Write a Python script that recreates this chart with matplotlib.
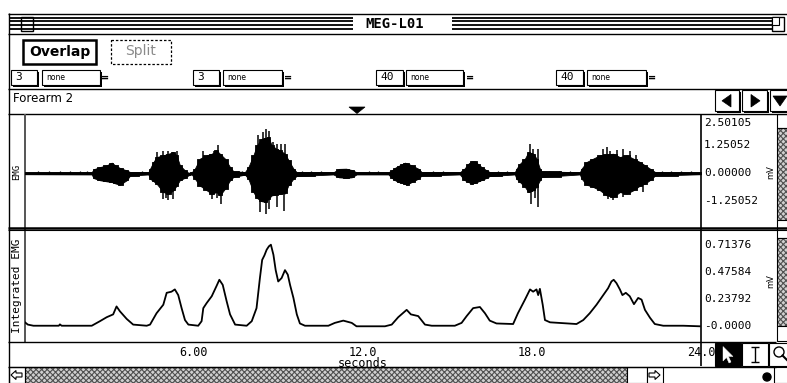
import matplotlib
matplotlib.use("Agg")
import matplotlib.pyplot as plt
from matplotlib.patches import Rectangle, Polygon, Circle

plt.rcParams['font.family'] = 'DejaVu Sans'
plt.rcParams['hatch.linewidth'] = 0.8

W, H = 787, 383
MONO = 'DejaVu Sans Mono'

# ---- raw EMG, outline of the trace (mV) ----
emg_t = [0.0,
         2.37, 2.43, 2.66, 2.9, 3.08, 3.2, 3.37, 3.61, 3.73,
         4.38, 4.44, 4.56, 4.67, 4.91, 5.09, 5.27, 5.38, 5.5, 5.68, 5.8,
         5.92, 6.03, 6.21, 6.45, 6.63, 6.8, 6.92, 7.1, 7.28, 7.4,
         7.81, 7.93, 8.11, 8.23, 8.4, 8.55, 8.64, 8.76, 8.93, 9.05, 9.23, 9.35, 9.53, 9.64,
         10.95, 11.15, 11.4, 11.6, 11.77,
         12.9, 13.02, 13.14, 13.25, 13.37, 13.49, 13.55, 13.73, 13.96, 14.08,
         15.44, 15.6, 15.74, 15.85, 15.97, 16.1, 16.21, 16.39, 16.5,
         17.39, 17.45, 17.57, 17.75, 17.87, 17.96, 18.05, 18.16, 18.28, 18.34,
         19.7, 19.76, 19.94, 20.17, 20.41, 20.65, 20.88, 21.12, 21.36, 21.6, 21.83, 22.01, 22.19, 22.37,
         24.0]
emg_hi = [0.04,
          0.05, 0.18, 0.28, 0.36, 0.48, 0.36, 0.24, 0.13, 0.06,
          0.05, 0.21, 0.51, 0.73, 0.81, 0.88, 0.95, 0.81, 0.36, 0.13, 0.03,
          0.05, 0.21, 0.66, 0.81, 0.88, 1.03, 0.88, 0.66, 0.28, 0.09,
          0.06, 0.28, 0.81, 1.25, 1.55, 1.6, 1.63, 1.25, 1.1, 1.03, 0.88, 0.6, 0.21, 0.06,
          0.05, 0.2, 0.21, 0.15, 0.05,
          0.05, 0.13, 0.25, 0.33, 0.40, 0.48, 0.45, 0.36, 0.21, 0.06,
          0.05, 0.21, 0.43, 0.54, 0.54, 0.40, 0.28, 0.13, 0.06,
          0.05, 0.21, 0.43, 0.66, 0.95, 0.92, 0.88, 0.66, 0.21, 0.09,
          0.05, 0.21, 0.51, 0.66, 0.81, 0.85, 0.88, 0.73, 0.81, 0.66, 0.51, 0.36, 0.21, 0.06,
          0.04]
emg_lo = [-0.04,
          -0.05, -0.21, -0.31, -0.36, -0.39, -0.45, -0.51, -0.31, -0.1,
          -0.05, -0.24, -0.35, -0.46, -0.84, -0.91, -0.76, -0.55, -0.3, -0.2, -0.09,
          -0.05, -0.24, -0.55, -0.76, -0.91, -0.84, -0.99, -0.69, -0.31, -0.16,
          -0.06, -0.24, -0.84, -1.1, -1.25, -1.29, -1.14, -0.99, -0.95, -0.91, -0.9, -0.54, -0.24, -0.12,
          -0.05, -0.18, -0.2, -0.18, -0.05,
          -0.05, -0.2, -0.31, -0.39, -0.42, -0.48, -0.51, -0.39, -0.24, -0.1,
          -0.05, -0.3, -0.39, -0.46, -0.43, -0.36, -0.3, -0.2, -0.12,
          -0.05, -0.24, -0.39, -0.61, -0.84, -0.8, -0.76, -0.6, -0.31, -0.16,
          -0.05, -0.24, -0.51, -0.61, -0.76, -0.99, -1.06, -0.84, -0.91, -0.76, -0.55, -0.46, -0.3, -0.1,
          -0.04]

# single spikes standing out of the bursts
spike_up_t = [4.67, 4.91, 5.09, 5.27, 5.38, 6.33, 6.7, 6.84, 8.28, 8.46, 8.55, 8.67, 8.82,
              8.96, 9.08, 9.23, 17.93, 18.02, 18.22, 20.53, 20.65, 20.77, 21.0, 21.24, 21.48, 21.71]
spike_up_v = [0.96, 1.0, 0.99, 0.95, 0.99, 0.99, 1.0, 1.25, 1.70, 1.85, 2.0, 1.88, 1.40,
              1.33, 1.33, 1.33, 1.33, 1.10, 1.07, 1.07, 1.18, 0.99, 1.05, 1.07, 0.99, 0.81]
spike_dn_t = [4.91, 5.0, 5.09, 5.27, 6.63, 6.8, 6.96, 8.34, 8.54, 8.67, 8.96, 9.21,
              17.96, 18.1, 18.2, 20.71, 20.88, 21.24, 21.95]
spike_dn_v = [-1.14, -1.1, -1.21, -1.17, -1.17, -1.1, -1.36, -1.74, -1.81, -1.59, -1.51, -1.71,
              -1.36, -1.1, -1.51, -1.17, -1.21, -1.06, -0.84]

# small flecks on the resting baseline
fleck_t = [0.45, 0.85, 1.25, 1.6, 1.95, 2.2, 4.14, 7.55, 7.7, 9.85, 10.15, 10.5, 12.2,
           12.55, 14.5, 14.85, 16.8, 17.1, 18.6, 18.95, 19.35, 22.6, 22.95, 23.3, 23.65]

# ---- integrated EMG (mV) ----
iemg_t = [0.0, 0.1, 0.3, 1.2, 1.24, 1.3, 2.37, 2.66, 2.9, 3.13,
          3.25, 3.37, 3.61, 3.84, 4.32, 4.44, 4.67, 4.91, 5.03, 5.2,
          5.32, 5.44, 5.56, 5.68, 5.8, 6.15, 6.27, 6.33, 6.45, 6.63,
          6.8, 6.9, 7.02, 7.16, 7.28, 7.46, 7.87, 8.05, 8.22, 8.34,
          8.42, 8.5, 8.58, 8.66, 8.73, 8.82, 8.9, 8.99, 9.11, 9.23,
          9.33, 9.41, 9.53, 9.65, 9.76, 9.94, 10.77, 11.0, 11.3, 11.6,
          11.77, 12.78, 13.02, 13.25, 13.55, 13.7, 13.96, 14.2, 14.44, 15.26,
          15.5, 15.68, 15.91, 16.15, 16.33, 16.5, 16.74, 17.33, 17.5, 17.75,
          17.93, 18.04, 18.16, 18.22, 18.28, 18.38, 18.46, 18.64, 19.58, 19.82,
          20.05, 20.29, 20.53, 20.7, 20.82, 20.9, 21.0, 21.12, 21.21, 21.33,
          21.47, 21.62, 21.77, 21.89, 22.01, 22.19, 22.36, 22.66, 23.37, 23.96]
iemg_v = [0.03, 0.01, 0.0, 0.0, 0.012, 0.0, 0.0, 0.04, 0.075, 0.10,
          0.17, 0.127, 0.06, 0.01, 0.0, 0.01, 0.11, 0.185, 0.29, 0.30,
          0.32, 0.27, 0.155, 0.05, 0.01, 0.0, 0.04, 0.155, 0.2, 0.26,
          0.35, 0.405, 0.36, 0.215, 0.1, 0.01, 0.0, 0.04, 0.155, 0.42,
          0.58, 0.62, 0.67, 0.70, 0.714, 0.625, 0.49, 0.39, 0.42, 0.49,
          0.45, 0.36, 0.245, 0.10, 0.02, 0.0, 0.0, 0.025, 0.045, 0.025,
          -0.005, -0.005, 0.01, 0.075, 0.14, 0.10, 0.085, 0.01, 0.0, 0.0,
          0.025, 0.085, 0.155, 0.165, 0.11, 0.045, 0.02, 0.015, 0.11, 0.23,
          0.32, 0.30, 0.32, 0.27, 0.325, 0.185, 0.05, 0.03, 0.015, 0.05,
          0.11, 0.185, 0.27, 0.33, 0.39, 0.405, 0.375, 0.32, 0.27, 0.29,
          0.26, 0.19, 0.245, 0.23, 0.14, 0.07, 0.015, 0.0, 0.0, -0.005]

emg_ticks = [2.50105, 1.25052, 0.0, -1.25052]
emg_labels = ["2.50105", "1.25052", "0.00000", "-1.25052"]
iemg_ticks = [0.71376, 0.47584, 0.23792, 0.0]
iemg_labels = ["0.71376", "0.47584", "0.23792", "-0.0000"]
time_ticks = [6, 12, 18, 24]
time_labels = ["6.00", "12.0", "18.0", "24.0"]


fig = plt.figure(figsize=(W / 100, H / 100), dpi=100)
ui = fig.add_axes([0, 0, 1, 1])
ui.set_xlim(0, W)
ui.set_ylim(H, 0)
ui.axis('off')


def px_axes(x0, y0, x1, y1):
    return fig.add_axes([x0 / W, 1 - y1 / H, (x1 - x0) / W, (y1 - y0) / H])


def rect(x0, y0, x1, y1, fc='white', ec='black', lw=0.8, **kw):
    ui.add_patch(Rectangle((x0, y0), x1 - x0, y1 - y0, fc=fc, ec=ec, lw=lw, **kw))


def shadow_rect(x0, y0, x1, y1, lw=0.8):
    rect(x0 + 1.5, y0 + 1.5, x1 + 1.5, y1 + 1.5, fc='black', lw=0)
    rect(x0, y0, x1, y1, lw=lw)


def hline(y, x0, x1, lw=0.8, color='black'):
    ui.plot([x0, x1], [y, y], color=color, lw=lw, solid_capstyle='butt')


def vline(x, y0, y1, lw=0.8, color='black'):
    ui.plot([x, x], [y0, y1], color=color, lw=lw, solid_capstyle='butt')


def tri(pts, fc='black'):
    ui.add_patch(Polygon(pts, closed=True, fc=fc, ec=fc, lw=0.5))


def pattern(x0, y0, x1, y1):
    ui.add_patch(Rectangle((x0, y0), x1 - x0, y1 - y0, fc='#d0d0d0', ec='#505050',
                           lw=0, hatch='xxxxxx'))
    rect(x0, y0, x1, y1, fc='none')


# ---- window title bar ----
hline(13.5, 8, W, lw=1)
hline(33.5, 8, W, lw=1)
for y in (17.5, 21.3, 25.1, 28.9):
    hline(y, 9, 353, lw=1.3)
    hline(y, 452, 772, lw=1.3)
rect(21, 17, 33, 31, lw=1)
ui.text(395, 23.5, "MEG-L01", ha='center', va='center', fontsize=10,
        fontweight='bold', family=MONO)
rect(772, 17, 784, 31, lw=1)
rect(772, 17, 779, 25, lw=0.8)
vline(8.5, 13, H, lw=1)

# ---- buttons ----
rect(23, 40, 96, 64, lw=1.8)
ui.text(59.5, 52, "Overlap", ha='center', va='center', fontsize=10, fontweight='bold')
rect(111, 40, 171, 64, lw=0.9, ls=(0, (2, 1.5)))
ui.text(141, 51.5, "Split", ha='center', va='center', fontsize=10, color='#8a8a8a')

# ---- channel setup fields ----
fields = [(11, 37, "3", 42, 100, 105),
          (193, 219, "3", 223, 282, 288),
          (376, 403, "40", 406, 463, 470),
          (556, 583, "40", 587, 646, 652)]
for nx0, nx1, num, bx0, bx1, ex in fields:
    shadow_rect(nx0, 70, nx1, 85)
    ui.text(nx0 + 4, 77.5, num, ha='left', va='center', fontsize=8, family=MONO)
    shadow_rect(bx0, 70, bx1, 85)
    ui.text(bx0 + 4, 78, "none", ha='left', va='center', fontsize=5.5)
    ui.text(ex, 77.5, "=", ha='center', va='center', fontsize=7, fontweight='bold')

hline(88.5, 8, W, lw=1)
ui.text(13, 98, "Forearm 2", ha='left', va='center', fontsize=8.5)
hline(113.5, 8, W, lw=1)
tri([(349, 107), (365, 107), (357, 113.5)])

# scroll arrows at the top right
for bx0, bx1 in ((715, 739), (742, 767), (770, 790)):
    shadow_rect(bx0, 90, bx1, 111)
tri([(731, 94.5), (731, 107), (722, 100.8)])
tri([(751, 94.5), (751, 107), (760, 100.8)])
tri([(773, 96), (787, 96), (780, 106)])

# ---- data panels ----
X0, X1 = 25, 701
vline(X0, 113.5, 342, lw=1.4, color='#555555')
vline(X1, 113.5, 366, lw=1.2)
hline(227.5, 8, W, lw=1.8)
hline(229.8, 8, W, lw=0.8)
hline(342, 8, 776, lw=1)

ax1 = px_axes(X0, 114.5, X1, 227.5)
ax2 = px_axes(X0, 229.5, X1, 341.5)
for ax in (ax1, ax2):
    ax.set_facecolor('none')
    for s in ax.spines.values():
        s.set_visible(False)
    ax.set_xlim(0, 24)
    ax.set_yticks([])
ax1.set_ylim(-2.43, 2.64)
ax2.set_ylim(-0.139, 0.848)
ax1.set_xticks([])

# raw trace: ragged outline plus the taller single spikes
ax1.fill_between(emg_t, emg_lo, emg_hi, step='mid', color='black', lw=0.6)
ax1.fill_between(emg_t, emg_lo, emg_hi, color='black', lw=0.6)
ax1.vlines(spike_up_t, 0, spike_up_v, color='black', lw=1.1)
ax1.vlines(spike_dn_t, spike_dn_v, 0, color='black', lw=1.1)
ax1.vlines(fleck_t, -0.02, 0.1, color='black', lw=0.9)

ax2.plot(iemg_t, iemg_v, color='black', lw=1.3)

# value scales on the right
for v, lab in zip(emg_ticks, emg_labels):
    ax1.text(1.0045, v, lab, transform=ax1.get_yaxis_transform(), ha='left',
             va='top' if v == emg_ticks[0] else 'center', fontsize=8, family=MONO)
for v, lab in zip(iemg_ticks, iemg_labels):
    ax2.text(1.0045, v, lab, transform=ax2.get_yaxis_transform(), ha='left',
             va='center', fontsize=8, family=MONO)

ax2.set_xticks(time_ticks, time_labels)
ax2.tick_params(axis='x', length=0, pad=3, labelsize=8.5)
for lab in ax2.get_xticklabels():
    lab.set_family(MONO)
ax2.set_xlabel("seconds", fontsize=8.5, family=MONO, labelpad=-1)

# channel names and units
ui.text(17, 172, "EMG", rotation=90, ha='center', va='center', fontsize=6.5, family=MONO)
ui.text(17, 286, "Integrated EMG", rotation=90, ha='center', va='center', fontsize=8,
        family=MONO)
ui.text(771, 172, "mV", rotation=90, ha='center', va='center', fontsize=6)
ui.text(771, 281, "mV", rotation=90, ha='center', va='center', fontsize=6)

# vertical scroll bar on the right
rect(777, 114, 790, 128)
pattern(777, 128, 790, 220)
rect(777, 220, 790, 238)
pattern(777, 238, 790, 326)
rect(777, 326, 790, 341)

# tool palette
rect(715, 343, 741, 366, fc='black')
ui.add_patch(Polygon([(723, 346.5), (723, 361), (726.5, 357.5), (729, 363), (731, 362),
                      (728.5, 356.5), (733, 356.5)], closed=True, fc='white', ec='white', lw=0.3))
rect(742, 343, 768, 366)
vline(755, 347, 362, lw=1)
hline(347, 751, 759, lw=1)
hline(362, 751, 759, lw=1)
rect(769, 343, 790, 366)
ui.add_patch(Circle((779, 352), 5, fc='white', ec='black', lw=1))
ui.plot([782.5, 787], [355.5, 360], color='black', lw=1.5)

# bottom scroll bar
hline(366.5, 8, 776, lw=1)
rect(8.5, 367, 25, 383)
ui.add_patch(Polygon([(11, 375), (16, 370.5), (16, 373), (22, 373), (22, 377), (16, 377),
                      (16, 379.5)], closed=True, fc='white', ec='black', lw=0.8))
pattern(25, 367, 627, 383)
rect(627, 367, 647, 383)
rect(647, 367, 663, 383)
ui.add_patch(Polygon([(660, 375), (655, 370.5), (655, 373), (649, 373), (649, 377), (655, 377),
                      (655, 379.5)], closed=True, fc='white', ec='black', lw=0.8))
ui.add_patch(Circle((767, 377), 4, fc='black', ec='black'))
rect(774, 367, 790, 383)

fig.savefig("out.png", dpi=100)
